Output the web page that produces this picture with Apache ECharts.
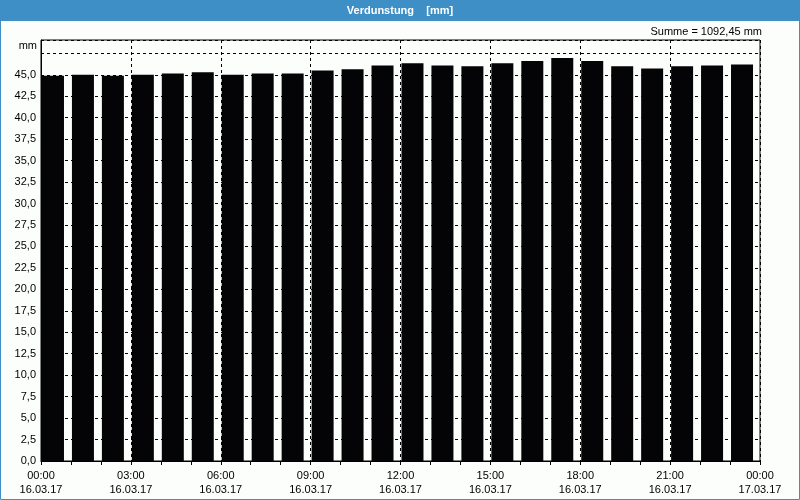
<!DOCTYPE html>
<html>
<head>
<meta charset="utf-8">
<script src="https://cdn.jsdelivr.net/npm/echarts@6/dist/echarts.min.js"></script>
<style>
html,body{margin:0;padding:0;background:#fcfefc;}
#c{width:800px;height:500px;}
</style>
</head>
<body>
<div id="c"></div>
<script>
// Data
const hours = ['00','01','02','03','04','05','06','07','08','09','10','11','12','13','14','15','16','17','18','19','20','21','22','23'];
const evaporation = [44.9, 45.0, 44.9, 45.0, 45.15, 45.3, 45.0, 45.15, 45.15, 45.5, 45.65, 46.1, 46.35, 46.1, 46.0, 46.35, 46.6, 46.95, 46.6, 46.0, 45.75, 46.0, 46.1, 46.2];
const tickHours = [0, 3, 6, 9, 12, 15, 18, 21, 24];
const tickTimes = ['00:00','03:00','06:00','09:00','12:00','15:00','18:00','21:00','00:00'];
const tickDates = ['16.03.17','16.03.17','16.03.17','16.03.17','16.03.17','16.03.17','16.03.17','16.03.17','17.03.17'];
const titleText = 'Verdunstung    [mm]';
const sumText = 'Summe = 1092,45 mm';
const unitText = 'mm';

const font = 'Liberation Sans, Arial, sans-serif';
const chart = echarts.init(document.getElementById('c'));
const L = 41, R = 760, T = 40, B = 461;
const empty = hours.map(() => null);

chart.setOption({
  backgroundColor: '#fcfefc',
  animation: false,
  grid: { left: L, right: 800 - R, top: T, bottom: 500 - B, show: true, borderColor: '#000', borderWidth: 1, backgroundColor: 'transparent' },
  graphic: [
    { type: 'rect', shape: { x: 0, y: 0, width: 800, height: 21 }, style: { fill: '#3d8fc6' }, z: 0 },
    { type: 'rect', shape: { x: 0.5, y: 0.5, width: 799, height: 499 }, style: { fill: 'none', stroke: '#3d8fc6', lineWidth: 1 }, z: 0 },
    { type: 'text', x: 400, y: 11, style: { text: titleText, fill: '#fff', font: 'bold 11px ' + font, align: 'center', verticalAlign: 'middle' } },
    { type: 'text', x: 762, y: 32, style: { text: sumText, fill: '#000', font: '11px ' + font, align: 'right', verticalAlign: 'middle' } },
    { type: 'text', x: 37, y: 46, style: { text: unitText, fill: '#000', font: '11px ' + font, align: 'right', verticalAlign: 'middle' } }
  ],
  xAxis: [
    {
      type: 'value', min: 0, max: 24, interval: 3,
      axisLine: { show: true, lineStyle: { color: '#000' } },
      axisTick: { show: true, length: 4, lineStyle: { color: '#000' } },
      minorTick: { show: true, splitNumber: 3, length: 4, lineStyle: { color: '#000' } },
      splitLine: { show: true, lineStyle: { color: '#000', type: [3, 3], width: 1 } },
      axisLabel: {
        color: '#000', fontFamily: font, fontSize: 11, lineHeight: 14, margin: 8,
        showMinLabel: true, showMaxLabel: true,
        formatter: function (v) {
          const i = tickHours.indexOf(v);
          return i >= 0 ? tickTimes[i] + '\n' + tickDates[i] : '';
        }
      }
    },
    {
      type: 'category', data: hours, show: false, boundaryGap: true, position: 'bottom'
    }
  ],
  yAxis: {
    type: 'value', min: 0, max: 49.06, interval: 2.5,
    axisLine: { show: true, lineStyle: { color: '#000' } },
    axisTick: { show: false },
    splitLine: { show: true, lineStyle: { color: '#000', type: [3, 3], width: 1 } },
    axisLabel: {
      color: '#000', fontFamily: font, fontSize: 11, margin: 5,
      showMaxLabel: false,
      formatter: function (v) { return v > 45.01 ? '' : v.toFixed(1).replace('.', ','); }
    }
  },
  series: [
    { type: 'bar', xAxisIndex: 1, data: empty, barWidth: 1, barGap: '0%', silent: true },
    { type: 'bar', xAxisIndex: 1, data: evaporation, barWidth: 22, barGap: '0%', itemStyle: { color: '#040306' }, z: 3 },
    { type: 'bar', xAxisIndex: 1, data: empty, barWidth: 7, barGap: '0%', silent: true }
  ]
});
</script>
</body>
</html>
